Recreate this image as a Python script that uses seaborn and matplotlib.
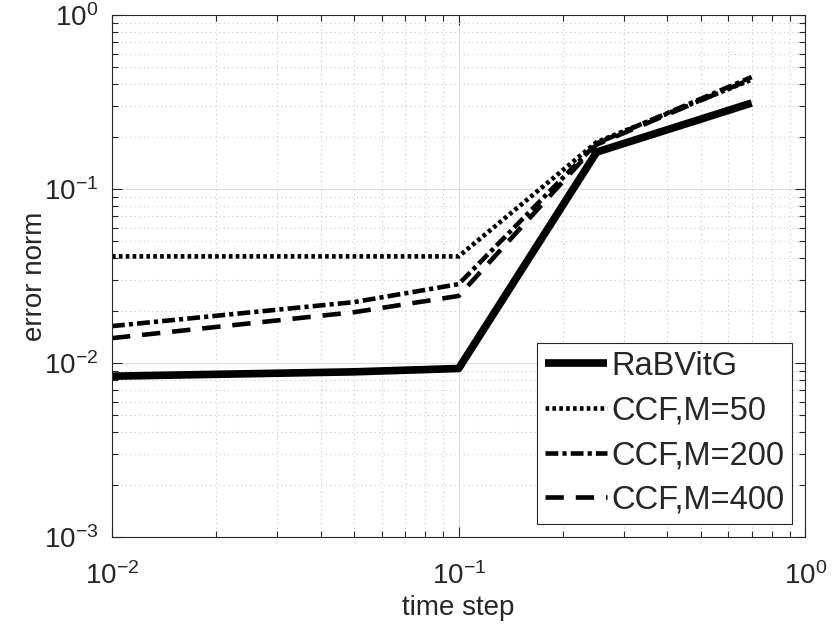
import numpy as np
import pandas as pd
import seaborn as sns
import matplotlib
matplotlib.use("Agg")
import matplotlib.pyplot as plt

# %% data
time_step = [0.01, 0.05, 0.1, 0.25, 0.7]
methods = ["RaBVitG", "CCF,M=50", "CCF,M=200", "CCF,M=400"]
err_rabvitg = [0.0084, 0.0089, 0.0093, 0.163, 0.312]
err_m50 = [0.041, 0.041, 0.041, 0.186, 0.425]
err_m200 = [0.0163, 0.0224, 0.0284, 0.183, 0.44]
err_m400 = [0.0139, 0.0196, 0.0243, 0.180, 0.43]

df = pd.DataFrame(dict(
    time_step=time_step * 4,
    error=err_rabvitg + err_m50 + err_m200 + err_m400,
    method=np.repeat(methods, len(time_step)),
))

# %% style
sns.set_style("ticks")
plt.rcParams["font.family"] = ["Liberation Sans", "DejaVu Sans"]
plt.rcParams["mathtext.fontset"] = "custom"
plt.rcParams["mathtext.rm"] = "Liberation Sans"
plt.rcParams["mathtext.it"] = "Liberation Sans"

fig, ax = plt.subplots(figsize=(8.32, 6.41), dpi=100)
fig.subplots_adjust(left=0.1346, right=0.968, top=0.9766, bottom=0.1622)

dashes = {
    "RaBVitG": "",
    "CCF,M=50": (0.8, 0.7),
    "CCF,M=200": (2.8, 0.9, 0.9, 0.9),
    "CCF,M=400": (4.0, 2.6),
}
sns.lineplot(
    data=df,
    x="time_step",
    y="error",
    style="method",
    size="method",
    sizes={"RaBVitG": 5.5, "CCF,M=50": 3.3, "CCF,M=200": 3.3, "CCF,M=400": 3.3},
    dashes=dashes,
    color="k",
    ax=ax,
)
for line in ax.get_lines():
    line.set_dash_capstyle("butt")
    line.set_solid_capstyle("butt")

ax.set_xscale("log")
ax.set_yscale("log")
ax.set_xlim(1e-2, 1e0)
ax.set_ylim(1e-3, 1e0)
ax.set_xticks([1e-2, 1e-1, 1e0])
ax.set_yticks([1e-3, 1e-2, 1e-1, 1e0])
ax.set_xticklabels(["$10^{-2}$", "$10^{-1}$", "$10^{0}$"])
ax.set_yticklabels(["$10^{-3}$", "$10^{-2}$", "$10^{-1}$", "$10^{0}$"])

ax.grid(which="major", color="#dcdcdc", linestyle="-", linewidth=0.8)
ax.grid(which="minor", color="#c8c8c8", linestyle=(0, (1, 3)), linewidth=0.8)
ax.tick_params(which="both", direction="in", top=True, right=True,
               labelsize=20, color="#262626", width=0.8)
ax.tick_params(which="major", length=7)
ax.tick_params(axis="x", which="major", pad=18)
ax.tick_params(axis="y", which="major", pad=10)
ax.tick_params(which="minor", length=4)
for s in ax.spines.values():
    s.set_color("#262626")
    s.set_linewidth(0.8)

ax.set_xlabel("time step", fontsize=20, color="#262626", labelpad=4)
ax.set_ylabel("error norm", fontsize=20, color="#262626", labelpad=-3)

handles, labels = ax.get_legend_handles_labels()
leg = ax.legend(
    handles, labels, loc="lower right", fontsize=23.5,
    handlelength=1.9, handletextpad=0.12, borderpad=0.25, labelspacing=0.42,
    borderaxespad=0.4, fancybox=False, framealpha=1, edgecolor="#262626",
)
leg.get_frame().set_linewidth(0.8)

fig.savefig("out.png", dpi=100)
